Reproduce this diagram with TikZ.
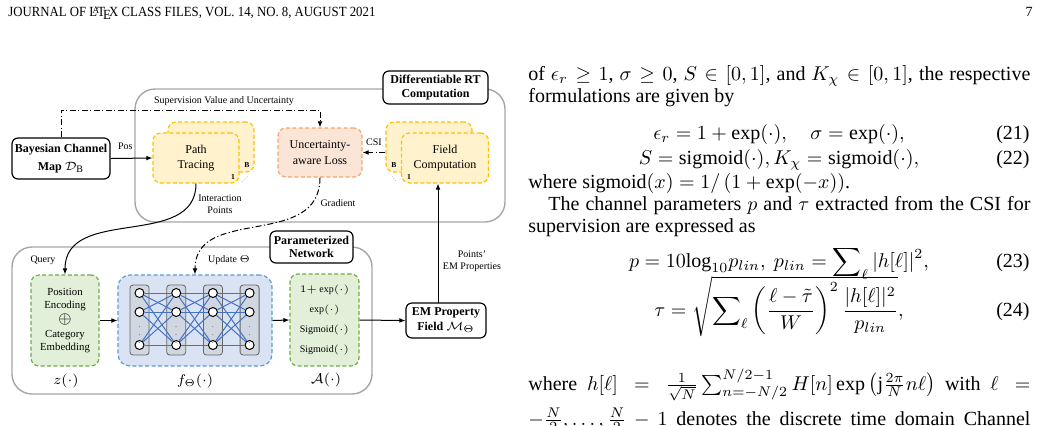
\documentclass[tikz,border=0pt]{standalone}
\usepackage{amsmath}
\usepackage{graphicx}
\usepackage{fontspec}
\setmainfont{Liberation Serif}
\usetikzlibrary{arrows.meta, positioning}
\definecolor{rtyellow}{HTML}{FFF2CC}
\definecolor{rtyellowline}{HTML}{FFC000}
\definecolor{losspink}{HTML}{FBE5D6}
\definecolor{lossline}{HTML}{F4A470}
\definecolor{netgreen}{HTML}{E2F0D9}
\definecolor{netgreenline}{HTML}{70AD47}
\definecolor{mlpblue}{HTML}{DAE3F3}
\definecolor{mlpblueline}{HTML}{5B9BD5}
\definecolor{edgeblue}{HTML}{4472C4}
\definecolor{framegray}{HTML}{A6A6A6}
\definecolor{colgray}{HTML}{D0D7E1}

\begin{document}
\begin{tikzpicture}[x=0.5pt, y=-0.5pt,
        titlebox/.style={rectangle, draw, line width=0.6pt, rounded corners=3pt, fill=white, align=center, inner sep=0pt, font=\fontsize{6}{6.6}\selectfont\bfseries},
        groupframe/.style={rectangle, draw=framegray, line width=0.7pt, rounded corners=10pt},
        dashblk/.style={rectangle, dash pattern=on 2pt off 1.2pt, line width=0.6pt, rounded corners=4pt, align=center, inner sep=0pt},
        traceblk/.style={dashblk, draw=rtyellowline, fill=rtyellow, minimum width=43pt, minimum height=25pt, font=\fontsize{6}{7.5}\selectfont},
        lossblk/.style={dashblk, draw=lossline, fill=losspink, minimum width=42pt, minimum height=24.5pt, font=\fontsize{6}{7.8}\selectfont},
        greenblk/.style={dashblk, draw=netgreenline, fill=netgreen, font=\fontsize{5.4}{6.5}\selectfont},
        mlpblk/.style={dashblk, draw=mlpblueline, fill=mlpblue, rounded corners=6pt},
        nnlayer/.style={rectangle, draw=gray!80!black, fill=colgray, rounded corners=1.5pt, minimum width=9.5pt, minimum height=35pt, line width=0.4pt},
        neuron/.style={circle, draw, fill=white, minimum size=4.5pt, inner sep=0pt, line width=0.5pt},
        lbl/.style={font=\fontsize{5}{5.8}\selectfont, inner sep=0pt, align=center},
        stacktag/.style={font=\fontsize{3.8}{4}\selectfont\bfseries, inner sep=0pt},
        funlbl/.style={font=\fontsize{7}{8}\selectfont, inner sep=0pt},
        body/.style={inner sep=0pt, font=\fontsize{10}{11}\selectfont},
        line/.style={draw, -{Latex[length=3pt,width=2.4pt]}, line width=0.5pt},
        dashline/.style={line, dash pattern=on 3pt off 1.2pt on 0.6pt off 1.2pt}]

    \useasboundingbox (0,0) rectangle (1042,425);
    \clip (0,0) rectangle (1042,425);

    % page head
    \node [anchor=base west, inner sep=0pt] (header) at (8,16) {\resizebox{183.5pt}{\height}{\fontsize{7}{8}\selectfont JOURNAL OF \LaTeX\ CLASS FILES, VOL. 14, NO. 8, AUGUST 2021}};
    \node [anchor=base east, inner sep=0pt] (pagenum) at (1033,16) {\fontsize{7}{8}\selectfont 7};

    % differentiable RT computation
    \node [groupframe, minimum width=185pt, minimum height=66.5pt] (rtframe) at (320,155.5) {};
    \node [titlebox, minimum width=52.5pt, minimum height=16.5pt] (rttitle) at (435.5,87.5) {Differentiable RT\\Computation};

    \node [traceblk] (traceb) at (211,147) {};
    \node [traceblk] (trace) at (196,158) {Path\\Tracing};
    \node [stacktag] (traceBtag) at (247,165) {B};
    \node [stacktag] (traceonetag) at (233,177) {1};
    \draw [densely dotted, gray, line width=0.3pt] (242,182) -- (248,176);

    \node [lossblk] (loss) at (320,152.5) {Uncertainty-\\aware Loss};

    \node [traceblk] (fieldb) at (429,147) {};
    \node [traceblk, minimum width=43.5pt] (field) at (445,158) {Field\\Computation};
    \node [stacktag] (fieldBtag) at (394,165) {B};
    \node [stacktag] (fieldonetag) at (409,177) {1};
    \draw [densely dotted, gray, line width=0.3pt] (392,176) -- (397,182);

    \node [titlebox, minimum width=49pt, minimum height=20.5pt, font=\fontsize{6}{9}\selectfont\bfseries] (bayes) at (61,158.5) {Bayesian Channel\\Map $\mathcal{D}_{\mathrm{B}}$};

    \coordinate (suprow) at (0,110);
    \path [dashline] (bayes.north) |- (suprow -| loss.north) -- (loss.north);
    \node [lbl] (suplbl) at (224,101) {Supervision Value and Uncertainty};

    \path [line] (bayes.east) -- (trace.west) node [lbl, pos=0.35, above=4pt] {Pos};
    \path [dashline] (loss.east -| fieldb.west) -- (loss.east) node [lbl, midway, above=3pt] {CSI};

    % parameterized network
    \node [groupframe, minimum width=180pt, minimum height=73.5pt] (netframe) at (192,320.5) {};
    \node [titlebox, minimum width=41.5pt, minimum height=16pt] (nettitle) at (311.5,247) {Parameterized\\Network};

    \node [greenblk, minimum width=34pt, minimum height=45.5pt] (posenc) at (65,320.5) {Position\\Encoding\\[1.2pt]{\fontsize{8.5}{8.5}\selectfont$\oplus$}\\[0.6pt]Category\\Embedding};
    \node [mlpblk, minimum width=77pt, minimum height=45.5pt] (mlp) at (195,320.5) {};
    \node [greenblk, minimum width=34.5pt, minimum height=46pt, font=\fontsize{5}{10}\selectfont] (act) at (324.5,320) {$1{+}\exp(\cdot)$\\$\exp(\cdot)$\\Sigmoid$(\cdot)$\\Sigmoid$(\cdot)$};
    \node [titlebox, minimum width=40pt, minimum height=17.5pt, font=\fontsize{6}{7.2}\selectfont\bfseries] (emfield) at (446,320.5) {EM Property\\Field $\mathcal{M}_{\Theta}$};

    \foreach \i [evaluate=\i as \cx using 139.5+36.7*(\i-1)] in {1,...,4} {
        \node [nnlayer] (col-\i) at (\cx,320) {};
        \foreach \j/\cy in {1/293, 2/312, 3/345}
            \node [neuron] (n-\i-\j) at (\cx,\cy) {};
        \node [inner sep=0pt, text=gray, font=\fontsize{5}{5}\selectfont] (dots-\i) at (\cx,329) {$\vdots$};
    }
    \foreach \i [evaluate=\i as \k using int(\i+1)] in {1,2,3}
        \foreach \j in {1,2,3}
            \foreach \m in {1,2,3}
                \draw [edgeblue, line width=0.5pt] (n-\i-\j) -- (n-\k-\m);

    \path [line] (trace.south) .. controls (196,250) and (65,205) .. (posenc.north);
    \node [lbl] (interlbl) at (220,204) {Interaction\\Points};
    \path [dashline] (loss.south) .. controls (320,250) and (195,205) .. (mlp.north);
    \node [lbl] (gradlbl) at (338,203) {Gradient};

    \path [line] (posenc.east) -- (mlp.west);
    \path [line] (mlp.east) -- (act.west);
    \path [line] (act.east) -- (emfield.west);
    \coordinate (emup) at (438,303);
    \path [line] (emup) -- (emup |- field.south);
    \node [lbl] (emlbl) at (472,261) {Points'\\EM Properties};

    \node [lbl] (querylbl) at (43,260) {Query};
    \node [lbl] (updatelbl) at (229,260) {Update $\Theta$};
    \node [funlbl] (zlbl) at (66,381) {$z(\cdot)$};
    \node [funlbl] (flbl) at (195,381) {$f_{\Theta}(\cdot)$};
    \node [funlbl] (albl) at (326,380) {$\mathcal{A}(\cdot)$};

    % right column
    \node [body, anchor=base west] (txt1) at (528,80) {\hbox to 251pt{of $\epsilon_r \geq 1$, $\sigma \geq 0$, $S \in [0,1]$, and $K_\chi \in [0,1]$, the respective}};
    \node [body, anchor=base west] (txt2) at (528,102) {formulations are given by};
    \node [body, anchor=base] (eqa) at (779,139) {$\displaystyle \epsilon_r = 1+\exp(\cdot),\quad \sigma = \exp(\cdot),$};
    \node [body, anchor=base east] (eqanum) at (1030,139) {(21)};
    \node [body, anchor=base] (eqb) at (779,164) {$\displaystyle S = \mathrm{sigmoid}(\cdot), K_\chi = \mathrm{sigmoid}(\cdot),$};
    \node [body, anchor=base east] (eqbnum) at (1030,164) {(22)};
    \node [body, anchor=base west] (txt3) at (528,188) {where sigmoid$(x) = 1/\left(1+\exp(-x)\right)$.};
    \node [body, anchor=base west] (txt4) at (528,210) {\hbox to 251pt{\hspace{1em}The channel parameters $p$ and $\tau$ extracted from the CSI for}};
    \node [body, anchor=base west] (txt5) at (528,232) {supervision are expressed as};
    \node [body, anchor=base] (eqc) at (779,267) {$\displaystyle p = 10\mathrm{log}_{10} p_{lin},\ p_{lin} = \sum\nolimits_{\ell} |h[\ell]|^2,$};
    \node [body, anchor=base east] (eqcnum) at (1030,267) {(23)};
    \node [body, anchor=base] (eqd) at (779,316) {$\displaystyle \tau = \sqrt{\sum\nolimits_{\ell} \left(\frac{\ell-\tilde{\tau}}{W}\right)^{2} \frac{|h[\ell]|^2}{p_{lin}}},$};
    \node [body, anchor=base east] (eqdnum) at (1030,316) {(24)};
    \node [body, anchor=base west] (txt6) at (528,390) {\hbox to 251pt{where $h[\ell] = \frac{1}{\sqrt{N}} \sum_{n=-N/2}^{N/2-1} H[n] \exp\left(\mathrm{j}\frac{2\pi}{N} n\ell\right)$ with $\ell =$}};
    \node [body, anchor=base west] (txt7) at (528,425) {\hbox to 251pt{$-\frac{N}{2},\ldots,\frac{N}{2}-1$ denotes the discrete time domain Channel}};
\end{tikzpicture}
\end{document}
